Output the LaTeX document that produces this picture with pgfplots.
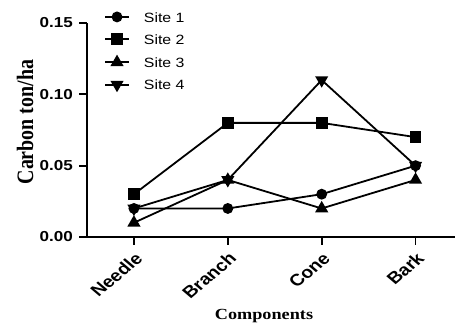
\documentclass[border=0pt]{standalone}
\usepackage{pgfplots}
\pgfplotsset{compat=1.18}
\usepackage{fontspec}
\setmainfont{Liberation Serif}
\newfontfamily\arialfont{Liberation Sans}
\newfontfamily\arialwide{Liberation Sans}[FakeStretch=1.18]
\newfontfamily\timeswide{Liberation Serif}[FakeStretch=1.18]
\begin{document}
\begin{tikzpicture}
\begin{axis}[
  at={(0,0)}, anchor=south west,
  scale only axis, width=368bp, height=214bp,
  xmin=-0.5, xmax=3.42, ymin=0, ymax=0.15,
  axis x line*=bottom, axis y line*=left,
  axis line style={line width=1.8bp, -},
  xtick={0,1,2,3}, xticklabels={Needle,Branch,Cone,Bark},
  ytick={0,0.05,0.10,0.15},
  tick align=outside, major tick length=7.5bp,
  tick style={line width=1.8bp, black},
  /pgf/number format/.cd, fixed, fixed zerofill, precision=2, assume math mode=true,
  /pgfplots/.cd,
  yticklabel style={font=\arialwide\bfseries\fontsize{14.5}{16}\selectfont, inner sep=6.5bp},
  xticklabel style={font=\arialfont\bfseries\fontsize{16.5}{18}\selectfont, xshift=5bp, yshift=-11bp, xscale=1.18, rotate=45, anchor=east, inner sep=0bp},
  ylabel={Carbon ton/ha},
  ylabel style={font=\bfseries\fontsize{20}{22}\selectfont, at={(axis description cs:-0.168,0.537)}, anchor=center, yscale=1.18},
  xlabel={Components},
  xlabel style={font=\timeswide\bfseries\fontsize{15.5}{18}\selectfont, at={(axis description cs:0.481,-0.37)}, anchor=center},
  legend style={at={(axis description cs:0.046,1.054)}, anchor=north west, draw=none, fill=none, inner sep=0pt,
    font=\arialwide\fontsize{13.5}{16}\selectfont, row sep=11.8bp,
    nodes={inner sep=0pt, text height=10.6bp, text depth=0bp}},
  legend cell align=left,
  legend image code/.code={\draw[mark repeat=2,mark phase=2,#1] plot coordinates {(0bp,0bp)(12bp,0bp)(24bp,0bp)};},
  /tikz/every odd column/.append style={column sep=14bp},
]
\addplot[black, line width=1.8bp, mark=*, mark size=4.5bp, mark options={solid, fill=black}] coordinates {(0,0.02) (1,0.02) (2,0.03) (3,0.05)};
\addlegendentry{Site 1}
\addplot[black, line width=1.8bp, mark=square*, mark size=5bp, mark options={solid, fill=black}] coordinates {(0,0.03) (1,0.08) (2,0.08) (3,0.07)};
\addlegendentry{Site 2}
\addplot[black, line width=1.8bp, mark=triangle*, mark size=5.8bp, mark options={solid, fill=black}] coordinates {(0,0.01) (1,0.04) (2,0.02) (3,0.04)};
\addlegendentry{Site 3}
\addplot[black, line width=1.8bp, mark=triangle*, mark size=5.8bp, mark options={solid, fill=black, rotate=180}] coordinates {(0,0.02) (1,0.04) (2,0.11) (3,0.05)};
\addlegendentry{Site 4}
\end{axis}
\pgfresetboundingbox
\useasboundingbox (-87bp,-86bp) rectangle (368bp,237bp);
\end{tikzpicture}
\end{document}
